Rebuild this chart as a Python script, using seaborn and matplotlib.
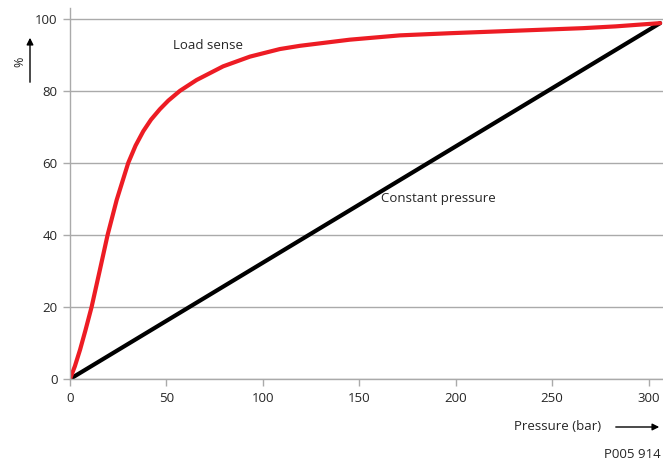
import pandas as pd
import numpy as np
import matplotlib.pyplot as plt
import seaborn as sns

sns.set_style("white")
plt.rcParams['font.family'] = ['Open Sans', 'DejaVu Sans']

# curva load sense
load_x = [0, 2.5, 5.2, 8, 11.2, 15.5, 19.5, 24.2, 30.2, 34, 38, 42, 46.6, 51, 57, 65.6, 79.4,
          93.3, 108.8, 119.2, 145, 171, 197, 231.5, 265.9, 283, 306]
load_y = [0, 3.5, 8.1, 13.5, 20, 30.3, 40, 49.7, 60, 64.8, 68.8, 72, 74.9, 77.3, 80, 83, 86.8,
          89.5, 91.6, 92.5, 94.2, 95.4, 96, 96.7, 97.4, 97.9, 98.8]

# presion constante
const_x = [0, 306]
const_y = [0, 98.8]

x_ticks = [0, 50, 100, 150, 200, 250, 300]
y_ticks = [0, 20, 40, 60, 80, 100]

df_load = pd.DataFrame({"p": load_x, "pct": load_y})
df_const = pd.DataFrame({"p": const_x, "pct": const_y})

fig = plt.figure(figsize=(6.63, 4.62), dpi=100)
ax = fig.add_axes([70/663, 1-379/462, 1-70/663, (379-8)/462])

ax.yaxis.grid(True, color="#aaaaaa", linewidth=1)
ax.set_axisbelow(True)

sns.lineplot(data=df_const, x="p", y="pct", color="black", linewidth=3, ax=ax)
sns.lineplot(data=df_load, x="p", y="pct", color="#ed1c24", linewidth=3, ax=ax)
for ln in ax.lines:
    ln.set_solid_capstyle("round")
    ln.set_solid_joinstyle("round")

ax.set_xlim(0, 307.5)
ax.set_ylim(0, 103)
ax.set_xticks(x_ticks)
ax.set_yticks(y_ticks)
ax.tick_params(axis="both", direction="out", length=5, color="#aaaaaa", width=1,
               labelsize=9.5, pad=4, left=True, bottom=True)
ax.set_xlabel("")
ax.set_ylabel("")

for s in ["top", "right"]:
    ax.spines[s].set_visible(False)
for s in ["left", "bottom"]:
    ax.spines[s].set_color("#aaaaaa")
    ax.spines[s].set_linewidth(1)

ax.text(53.4, 92.5, "Load sense", fontsize=9.5, ha="left", va="center")
ax.text(161.5, 50, "Constant pressure", fontsize=9.5, ha="left", va="center")

# etiquetas de ejes con flechas
fig.text(20/663, 1-62/462, "%", rotation=90, fontsize=9, ha="center", va="center")
fig.add_artist(plt.Annotation("", xy=(30/663, 1-35/462), xytext=(30/663, 1-85/462),
                              xycoords="figure fraction", textcoords="figure fraction",
                              arrowprops=dict(arrowstyle="-|>", color="black", lw=1,
                                              mutation_scale=10)))
fig.text(558/663, 1-427/462, "Pressure (bar)", fontsize=9.5, ha="center", va="center")
fig.add_artist(plt.Annotation("", xy=(662/663, 1-427/462), xytext=(613/663, 1-427/462),
                              xycoords="figure fraction", textcoords="figure fraction",
                              arrowprops=dict(arrowstyle="-|>", color="black", lw=1,
                                              mutation_scale=10)))
fig.text(661/663, 1-455/462, "P005 914", fontsize=9.5, ha="right", va="center")

fig.savefig("out.png", dpi=100)
